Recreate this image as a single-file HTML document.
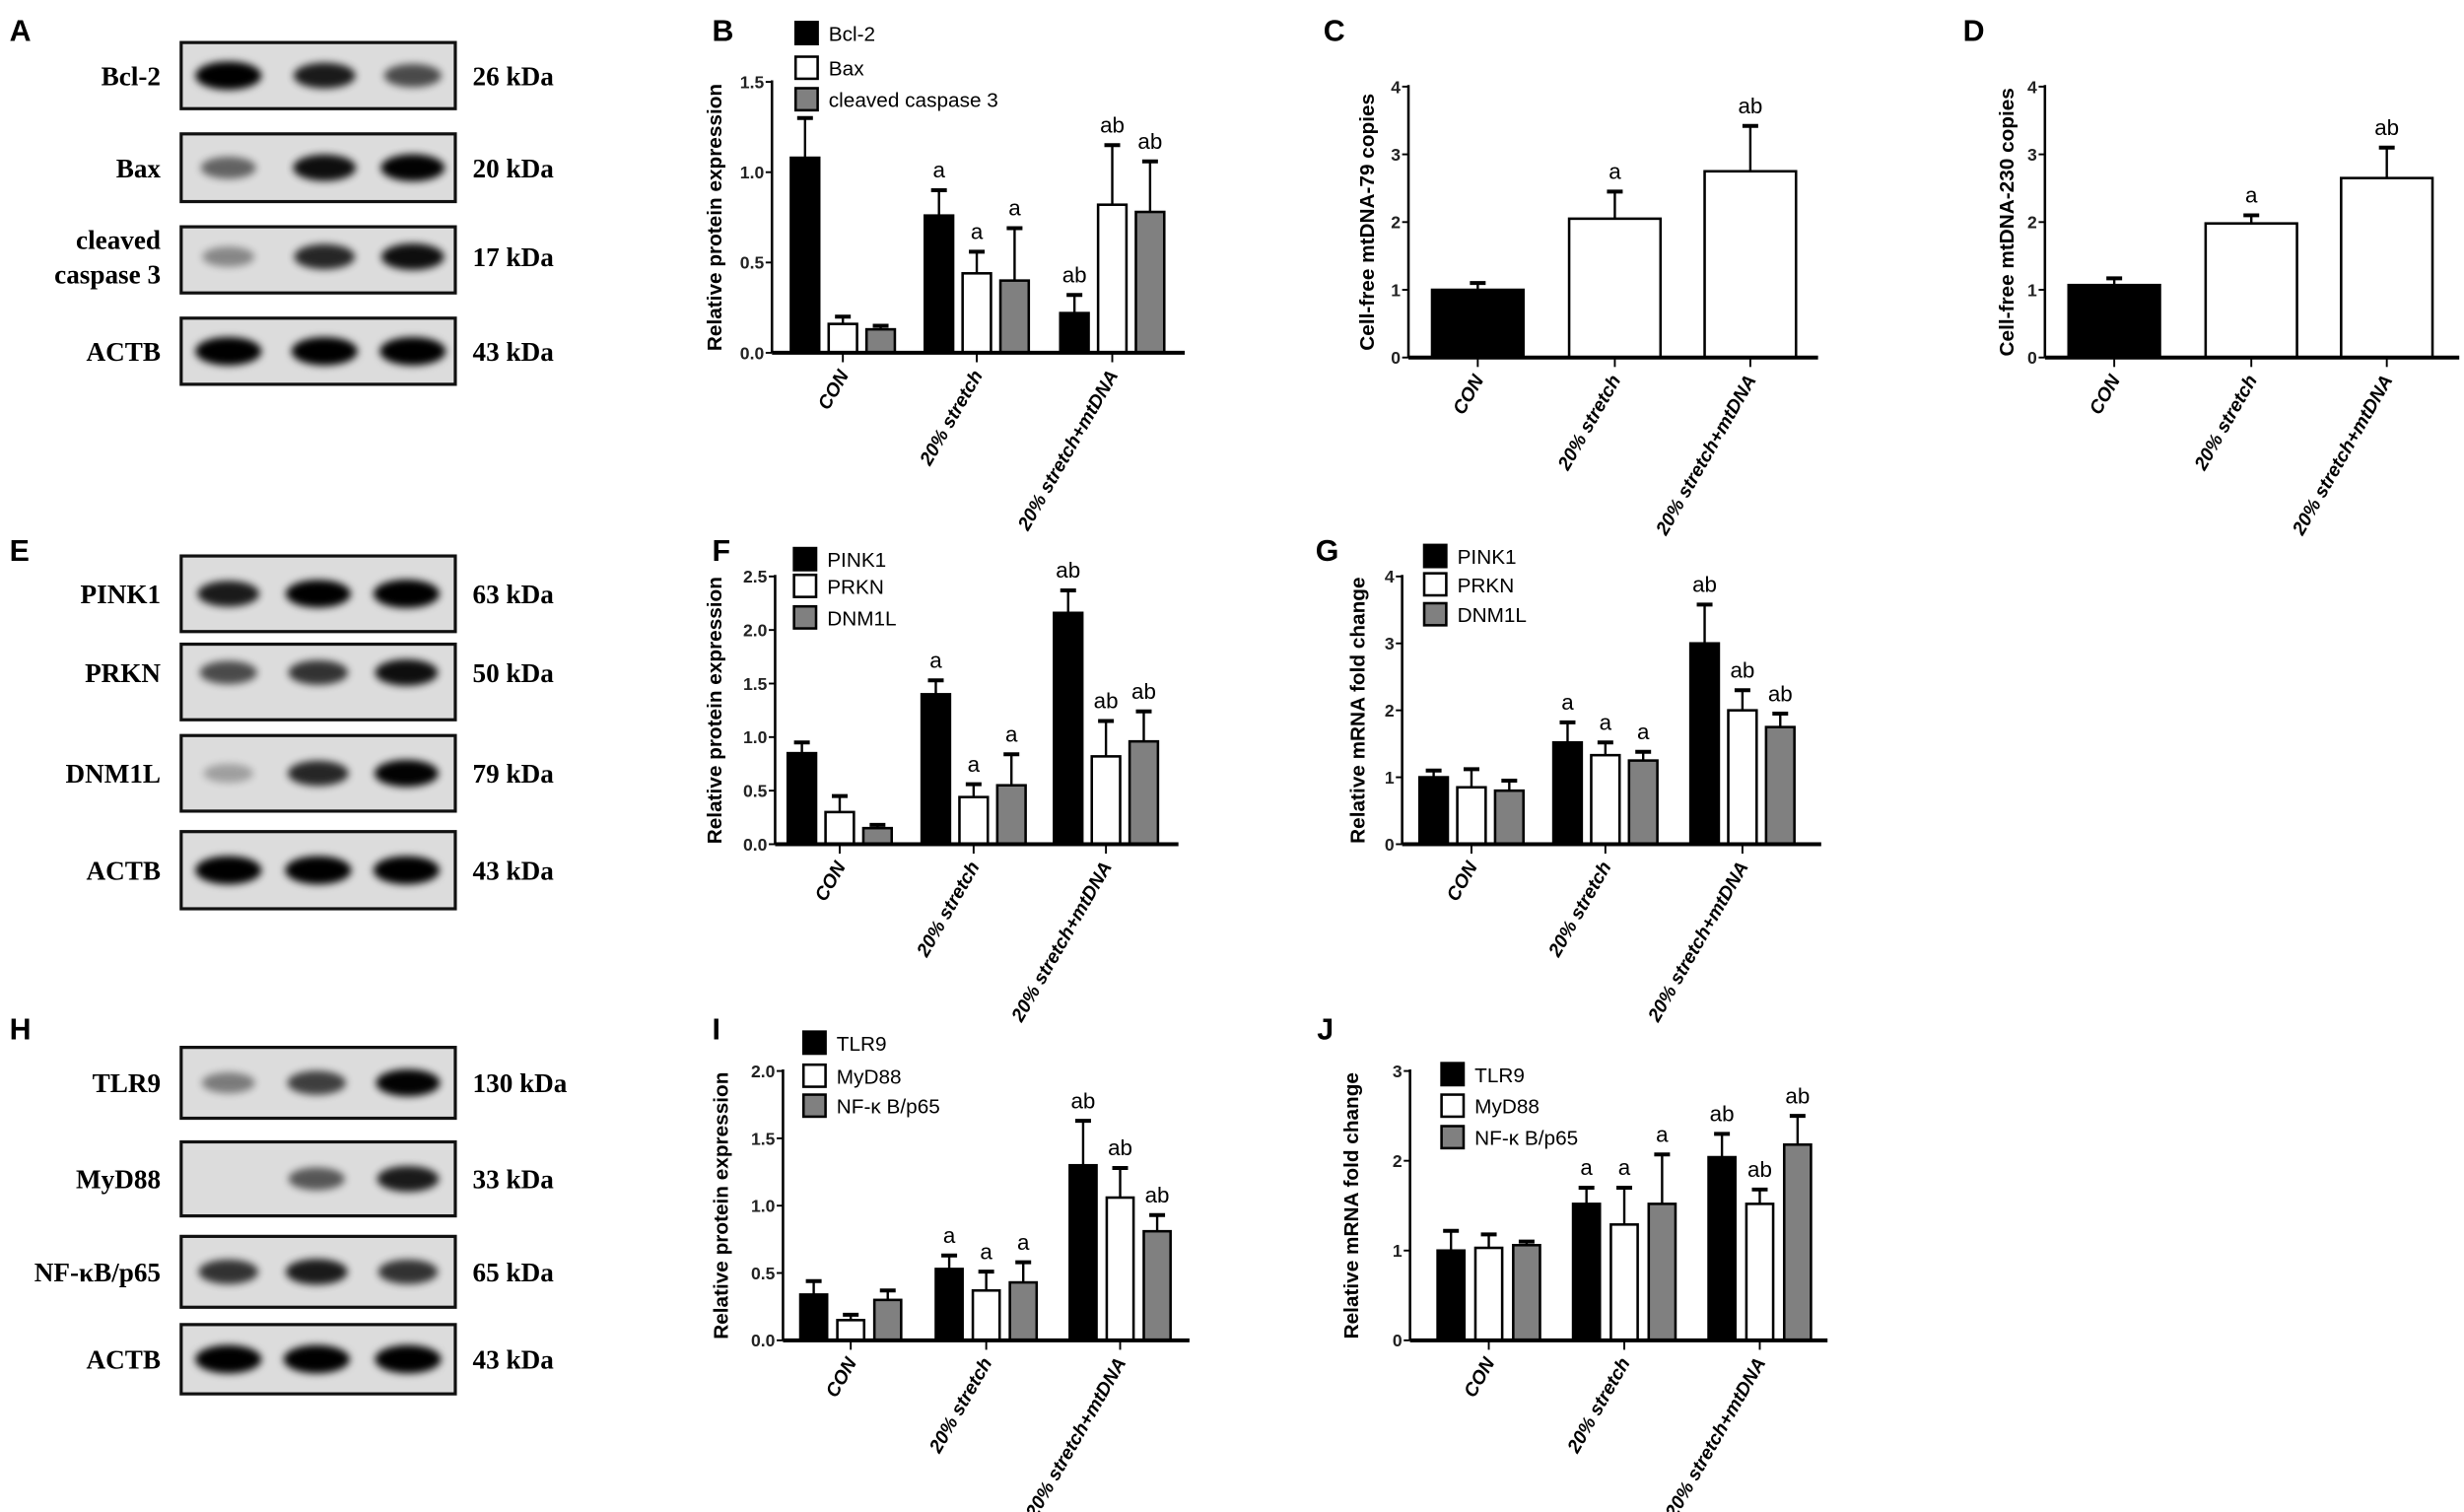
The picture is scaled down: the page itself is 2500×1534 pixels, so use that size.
<!DOCTYPE html>
<html><head><meta charset="utf-8"><style>
html,body{margin:0;padding:0;background:#fff;}
svg{display:block;}
text{font-family:"Liberation Sans",Arial,sans-serif;}
text.serif{font-family:"Liberation Serif","Times New Roman",serif;}
</style></head><body>
<svg id="s" xmlns="http://www.w3.org/2000/svg" width="2500" height="1534" viewBox="0 0 1564 960" preserveAspectRatio="none">
<defs><filter id="bl" x="-50%" y="-100%" width="200%" height="300%"><feGaussianBlur stdDeviation="2.5"/></filter></defs>
<rect width="1564" height="960" fill="#fff"/>
</svg>
<script>
const S=document.getElementById('s');const NS='http://www.w3.org/2000/svg';
function el(t,a,txt){const e=document.createElementNS(NS,t);for(const k in a)e.setAttribute(k,a[k]);if(txt!==undefined)e.textContent=txt;S.appendChild(e);return e;}
function letter(x,y,t){el('text',{x:x,y:y,'font-size':19,'font-weight':'bold'},t);}
function blot(rows,lanes,bw){
 rows.forEach(r=>{
  el('rect',{x:115,y:r.y0,width:174,height:r.y1-r.y0,fill:'#dcdcdc',stroke:'#111','stroke-width':2});
  const c=(r.y0+r.y1)/2+(r.dy||0);
  r.i.forEach((v,k)=>{ if(v>0) el('ellipse',{cx:lanes[k],cy:c,rx:bw*(0.7+0.35*v),ry:5+4*v,fill:'#000',opacity:Math.min(1,v*1.1),filter:'url(#bl)'});});
  const lines=r.name.split('\n');
  lines.forEach((ln,j)=>el('text',{x:102,y:c+6+(j-(lines.length-1)/2)*22,'font-size':17,'font-weight':'bold','text-anchor':'end','class':'serif'},ln));
  el('text',{x:300,y:c+6,'font-size':17,'font-weight':'bold','class':'serif'},r.kda);
 });
}
const FILL=['#000','#fff','#808080'];
function chart(o){
 const sc=(o.y0-o.yt)/o.max; const Y=v=>o.y0-v*sc;
 o.ticks.forEach(t=>{el('line',{x1:o.ax-4,y1:Y(t),x2:o.ax,y2:Y(t),stroke:'#000','stroke-width':1.2});
  el('text',{x:o.ax-5,y:Y(t)+4,'font-size':11,'font-weight':'bold','text-anchor':'end',fill:'#222'},o.fmt(t));});
 const n=o.vals.length; const w=o.bw, p=o.pitch;
 o.centers.forEach((cx,g)=>{
  for(let s=0;s<n;s++){
   const x=cx-(n-1)/2*p+s*p-w/2; const v=o.vals[s][g], e=o.errs[s][g];
   el('line',{x1:x+w/2,y1:Y(v),x2:x+w/2,y2:Y(e),stroke:'#000','stroke-width':1.5});
   el('line',{x1:x+w/2-5,y1:Y(e),x2:x+w/2+5,y2:Y(e),stroke:'#000','stroke-width':2.5});
   el('rect',{x:x,y:Y(v),width:w,height:v*sc,fill:o.fills?o.fills[g]:FILL[s],stroke:'#000','stroke-width':1.6});
   const l=o.sig[s][g]; if(l) el('text',{x:x+w/2,y:Y(e)-8,'font-size':14,'text-anchor':'middle'},l);
  }
  el('line',{x1:cx,y1:o.y0,x2:cx,y2:o.y0+6,stroke:'#000','stroke-width':1.2});
  el('text',{x:0,y:0,'font-size':12,'font-weight':'bold','font-style':'italic','text-anchor':'end',transform:`translate(${cx+4},${o.y0+14}) rotate(-60)`},o.xl[g]);
 });
 el('line',{x1:o.ax,y1:o.yt-1,x2:o.ax,y2:o.y0,stroke:'#000','stroke-width':1.6});
 el('line',{x1:o.ax,y1:o.y0,x2:o.xe,y2:o.y0,stroke:'#000','stroke-width':2.5});
 el('text',{x:0,y:0,'font-size':13,'font-weight':'bold','text-anchor':'middle',transform:`translate(${o.ylx},${(o.y0+o.yt)/2}) rotate(-90)`},o.yl);
 if(o.leg) o.leg.forEach((t,i)=>{const ly=o.ly[i];
  el('rect',{x:o.lx,y:ly-7,width:14,height:14,fill:FILL[i],stroke:'#000','stroke-width':1.6});
  el('text',{x:o.lx+21,y:ly+5,'font-size':13},t);});
}
const XL=['CON','20% stretch','20% stretch+mtDNA'];
const f1=t=>t.toFixed(1), f0=t=>String(t);
letter(6,26,'A');letter(452,26,'B');letter(840,26,'C');letter(1246,26,'D');
letter(6,356,'E');letter(452,356,'F');letter(835,356,'G');
letter(6,660,'H');letter(452,660,'I');letter(836,660,'J');
blot([{y0:27,y1:69,name:'Bcl-2',kda:'26 kDa',i:[1,.8,.6]},
 {y0:85,y1:128,name:'Bax',kda:'20 kDa',i:[.5,.85,.9]},
 {y0:144,y1:186,name:'cleaved\ncaspase 3',kda:'17 kDa',i:[.35,.75,.85],dy:-2},
 {y0:202,y1:244,name:'ACTB',kda:'43 kDa',i:[1,1,1]}],[145,206,262],20);
blot([{y0:353,y1:401,name:'PINK1',kda:'63 kDa',i:[.8,.95,1]},
 {y0:409,y1:457,name:'PRKN',kda:'50 kDa',i:[.6,.7,.85],dy:-6},
 {y0:467,y1:515,name:'DNM1L',kda:'79 kDa',i:[.25,.75,.9]},
 {y0:528,y1:577,name:'ACTB',kda:'43 kDa',i:[1,1,1]}],[145,202,258],20);
blot([{y0:665,y1:710,name:'TLR9',kda:'130 kDa',i:[.4,.65,.9]},
 {y0:725,y1:772,name:'MyD88',kda:'33 kDa',i:[0,.55,.8]},
 {y0:785,y1:830,name:'NF-κB/p65',kda:'65 kDa',i:[.7,.8,.7]},
 {y0:841,y1:885,name:'ACTB',kda:'43 kDa',i:[1,1,1]}],[145,201,259],20);
chart({ax:490,xe:752,y0:224,yt:52,max:1.5,ticks:[0,.5,1,1.5],fmt:f1,bw:18,pitch:24,centers:[535,620,706],
 vals:[[1.08,.76,.22],[.16,.44,.82],[.13,.40,.78]],errs:[[1.30,.90,.32],[.20,.56,1.15],[.15,.69,1.06]],
 sig:[['','a','ab'],['','a','ab'],['','a','ab']],xl:XL,yl:'Relative protein expression',ylx:458,
 leg:['Bcl-2','Bax','cleaved caspase 3'],lx:505,ly:[21,43,63]});
chart({ax:894,xe:1154,y0:227,yt:55,max:4,ticks:[0,1,2,3,4],fmt:f0,bw:58,pitch:0,centers:[938,1025,1111],
 vals:[[1.0,2.05,2.75]],errs:[[1.1,2.45,3.42]],sig:[['','a','ab']],fills:['#000','#fff','#fff'],xl:XL,yl:'Cell-free mtDNA-79 copies',ylx:872});
chart({ax:1298,xe:1561,y0:227,yt:55,max:4,ticks:[0,1,2,3,4],fmt:f0,bw:58,pitch:0,centers:[1342,1429,1515],
 vals:[[1.07,1.98,2.65]],errs:[[1.17,2.1,3.1]],sig:[['','a','ab']],fills:['#000','#fff','#fff'],xl:XL,yl:'Cell-free mtDNA-230 copies',ylx:1278});
chart({ax:492,xe:748,y0:536,yt:366,max:2.5,ticks:[0,.5,1,1.5,2,2.5],fmt:f1,bw:18,pitch:24,centers:[533,618,702],
 vals:[[.85,1.40,2.16],[.30,.44,.82],[.15,.55,.96]],errs:[[.95,1.53,2.37],[.45,.56,1.15],[.18,.84,1.24]],
 sig:[['','a','ab'],['','a','ab'],['','a','ab']],xl:XL,yl:'Relative protein expression',ylx:458,
 leg:['PINK1','PRKN','DNM1L'],lx:504,ly:[355,372,392]});
chart({ax:890,xe:1156,y0:536,yt:366,max:4,ticks:[0,1,2,3,4],fmt:f0,bw:18,pitch:24,centers:[934,1019,1106],
 vals:[[1.0,1.52,3.0],[.85,1.33,2.0],[.8,1.25,1.75]],errs:[[1.1,1.82,3.58],[1.12,1.52,2.3],[.95,1.38,1.95]],
 sig:[['','a','ab'],['','a','ab'],['','a','ab']],xl:XL,yl:'Relative mRNA fold change',ylx:866,
 leg:['PINK1','PRKN','DNM1L'],lx:904,ly:[353,371,390]});
chart({ax:497,xe:755,y0:851,yt:680,max:2,ticks:[0,.5,1,1.5,2],fmt:f1,bw:17,pitch:23.5,centers:[540,626,711],
 vals:[[.34,.53,1.30],[.15,.37,1.06],[.30,.43,.81]],errs:[[.44,.63,1.63],[.19,.51,1.28],[.37,.58,.93]],
 sig:[['','a','ab'],['','a','ab'],['','a','ab']],xl:XL,yl:'Relative protein expression',ylx:462,
 leg:['TLR9','MyD88','NF-κ B/p65'],lx:510,ly:[662,683,702]});
chart({ax:895,xe:1160,y0:851,yt:680,max:3,ticks:[0,1,2,3],fmt:f0,bw:17,pitch:24,centers:[945,1031,1117],
 vals:[[1.0,1.52,2.04],[1.03,1.29,1.52],[1.06,1.52,2.18]],errs:[[1.22,1.7,2.3],[1.18,1.7,1.68],[1.1,2.07,2.5]],
 sig:[['','a','ab'],['','a','ab'],['','a','ab']],xl:XL,yl:'Relative mRNA fold change',ylx:862,
 leg:['TLR9','MyD88','NF-κ B/p65'],lx:915,ly:[682,702,722]});
</script>
</body></html>
